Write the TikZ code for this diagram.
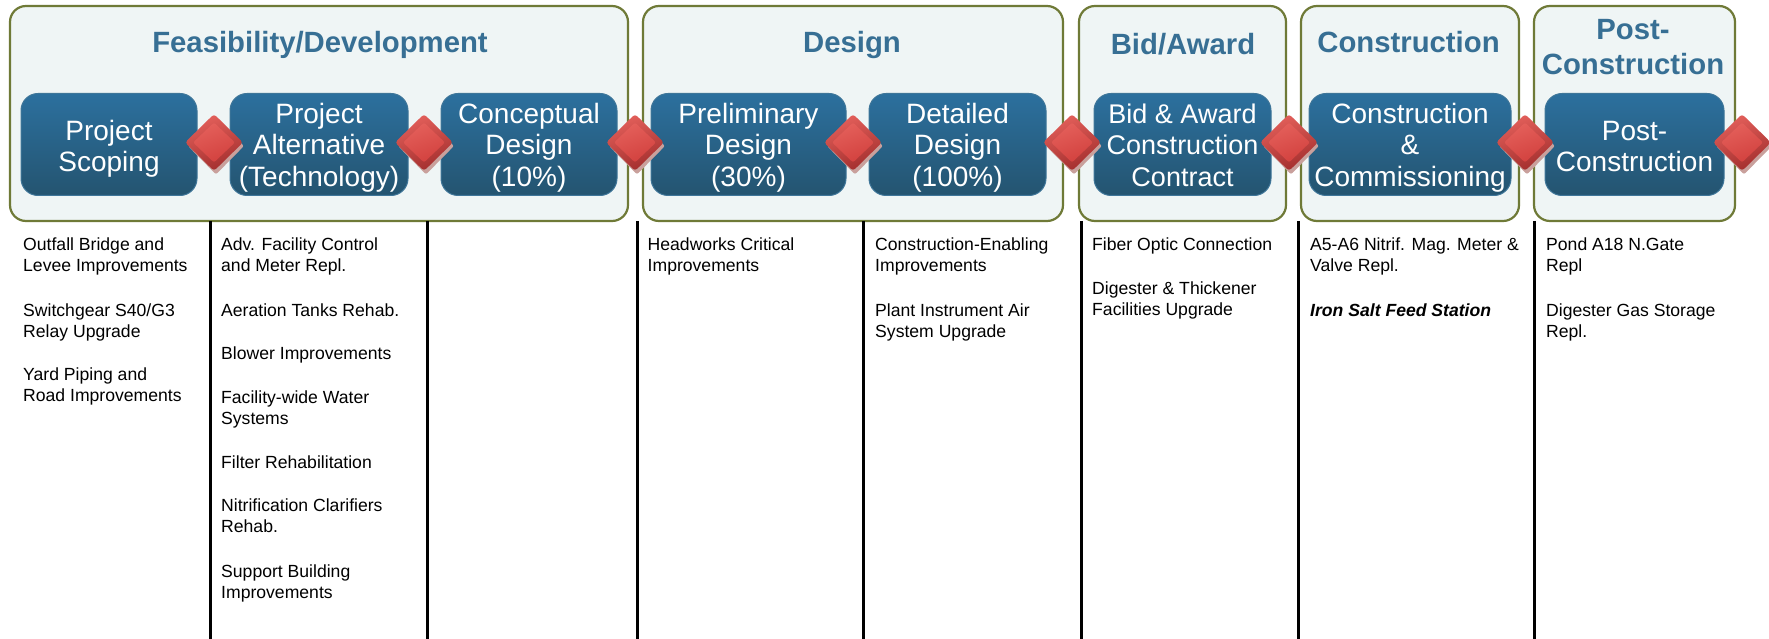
\documentclass[tikz,border=0pt]{standalone}
\usepackage{fontspec}
\setmainfont{Liberation Sans}
\usetikzlibrary{shapes.geometric}
\definecolor{panelfill}{HTML}{EFF5F5}
\definecolor{panelline}{HTML}{6F7A37}
\definecolor{titleblue}{HTML}{376F94}
\definecolor{boxtop}{HTML}{2C709E}
\definecolor{boxbottom}{HTML}{245470}
\definecolor{boxline}{HTML}{3F7699}
\definecolor{gemlight}{HTML}{E4605B}
\definecolor{gemmid}{HTML}{D2413E}
\definecolor{gemdark}{HTML}{A22E2D}
\definecolor{gemback}{HTML}{C9A09C}
\tikzset{
  phase/.style={draw=panelline,line width=2.2pt,fill=panelfill,rounded corners=16pt},
  phasetitle/.style={inner sep=0pt,anchor=base,align=center,text=titleblue,font=\fontsize{29.3}{35.7}\selectfont\bfseries},
  stagebox/.style={draw=boxline,line width=1pt,rounded corners=17pt,minimum height=102pt,
    inner sep=0pt,top color=boxtop,bottom color=boxbottom},
  stagetext/.style={inner sep=0pt,yshift=-3pt,text=white,align=center,font=\fontsize{28}{31.4}\selectfont},
  gemshadow/.style={diamond,inner sep=0pt,minimum width=56pt,minimum height=57pt,fill=gemback,rounded corners=2pt},
  gem/.style={diamond,inner sep=0pt,minimum width=58pt,minimum height=57pt,rounded corners=3pt,
    top color=gemlight,bottom color=gemdark,shading angle=20},
  gemface/.style={diamond,inner sep=0pt,minimum width=42pt,minimum height=40pt,rounded corners=2pt,
    top color=gemlight,bottom color=gemmid,shading angle=20},
  project/.style={inner sep=0pt,anchor=north west,yshift=14.7pt,align=left,
    font=\fontsize{17.6}{21}\selectfont,execute at begin node=\strut},
  divider/.style={line width=3pt,black}
}
\begin{document}
\begin{tikzpicture}[x=1pt,y=-1pt]
  \useasboundingbox (0,0) rectangle (1769,639);
  % phases
  \foreach \pname/\pa/\pb in {feasibility/10/628,design/643/1063,bid/1079/1286,construction/1301/1519,post/1534/1735}
    \draw[phase] (\pa,6) rectangle (\pb,221);
  \path (320,53) node[phasetitle] (feasibilitytitle) {Feasibility/Development};
  \path (852,53) node[phasetitle] (designtitle) {Design};
  \path (1183,55) node[phasetitle] (bidtitle) {Bid/Award};
  \path (1408.5,53) node[phasetitle] (constructiontitle) {Construction};
  \path (1633,47) node[phasetitle,anchor=center] (posttitle) {Post-\\Construction};
  % stages
  \foreach \sname/\sx/\sw in {scoping/109/176,alternative/319/178,conceptual/529/176,preliminary/748.5/195,
      detailed/957.5/177,award/1182.5/177,commissioning/1410/202,poststage/1634.5/179}
    \path (\sx,144.5) node[stagebox,minimum width=\sw pt] (\sname) {};
  \path (scoping) node[stagetext,yshift=-1pt] (scopingtext) {Project\\Scoping};
  \path (alternative) node[stagetext] (alternativetext) {Project\\Alternative\\(Technology)};
  \path (conceptual) node[stagetext] (conceptualtext) {Conceptual\\Design\\(10\%)};
  \path (preliminary) node[stagetext] (preliminarytext) {Preliminary\\Design\\(30\%)};
  \path (detailed) node[stagetext] (detailedtext) {Detailed\\Design\\(100\%)};
  \path (award) node[stagetext,yshift=2.5pt,font=\fontsize{27}{31.4}\selectfont] (awardtext) {Bid \& Award\\Construction\\Contract};
  \path (commissioning) node[stagetext] (commissioningtext) {Construction\\\&\\Commissioning};
  \path (poststage) node[stagetext,yshift=1pt] (poststagetext) {Post-\\Construction};
  % diamonds between stages
  \foreach \gname/\gx in {a/214,b/424,c/635,d/853,e/1072,f/1289,g/1525,h/1742}{
    \path (\gx+2,146) node[gemshadow] (\gname shadow) {};
    \path (\gx,142.5) node[gem] (\gname gem) {};
    \path (\gname gem) node[gemface] (\gname face) {};
  }
  % column rules
  \foreach \x in {210.5,427,637,863.5,1081,1298,1534}
    \draw[divider] (\x,221) -- (\x,639);
  % projects
  \path (23,252) node[project] (outfall) {Outfall Bridge and\\Levee Improvements};
  \path (23,318) node[project] (switchgear) {Switchgear S40/G3\\Relay Upgrade};
  \path (23,382) node[project] (yard) {Yard Piping and\\Road Improvements};
  \path (221,252) node[project] (facility) {Adv. Facility Control\\and Meter Repl.};
  \path (221,316.7) node[project] (aeration) {Aeration Tanks Rehab.};
  \path (221,359) node[project] (blower) {Blower Improvements};
  \path (221,405.5) node[project] (water) {Facility-wide Water\\Systems};
  \path (221,468) node[project] (filter) {Filter Rehabilitation};
  \path (221,513) node[project] (clarifiers) {Nitrification Clarifiers\\Rehab.};
  \path (221,579) node[project] (support) {Support Building\\Improvements};
  \path (647.5,252) node[project] (headworks) {Headworks Critical\\Improvements};
  \path (875,252) node[project] (enabling) {Construction-Enabling\\Improvements};
  \path (875,318) node[project] (instrument) {Plant Instrument Air\\System Upgrade};
  \path (1092,250.7) node[project] (fiber) {Fiber Optic Connection};
  \path (1092,296) node[project] (digester) {Digester \& Thickener\\Facilities Upgrade};
  \path (1310,252) node[project] (meter) {A5-A6 Nitrif. Mag. Meter \&\\Valve Repl.};
  \path (1310,316.7) node[project,font=\fontsize{17.6}{21}\selectfont\bfseries\itshape] (iron) {Iron Salt Feed Station};
  \path (1546,252) node[project] (pond) {Pond A18 N.Gate\\Repl};
  \path (1546,318) node[project] (storage) {Digester Gas Storage\\Repl.};
\end{tikzpicture}
\end{document}
